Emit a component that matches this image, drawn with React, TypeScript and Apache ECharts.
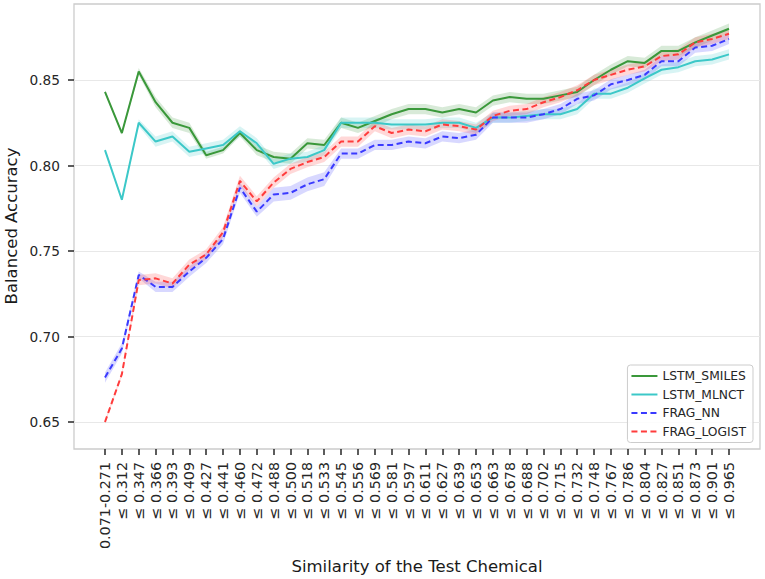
import React, { useEffect, useRef } from "react";
import * as echarts from "echarts";

const categories = [
  "0.071-0.271", "≤ 0.312", "≤ 0.347", "≤ 0.366", "≤ 0.393", "≤ 0.409", "≤ 0.427", "≤ 0.441",
  "≤ 0.460", "≤ 0.472", "≤ 0.488", "≤ 0.500", "≤ 0.518", "≤ 0.533", "≤ 0.545", "≤ 0.556",
  "≤ 0.569", "≤ 0.581", "≤ 0.597", "≤ 0.611", "≤ 0.627", "≤ 0.639", "≤ 0.653", "≤ 0.663",
  "≤ 0.678", "≤ 0.688", "≤ 0.702", "≤ 0.715", "≤ 0.732", "≤ 0.748", "≤ 0.767", "≤ 0.786",
  "≤ 0.804", "≤ 0.827", "≤ 0.851", "≤ 0.873", "≤ 0.901", "≤ 0.965",
];

const lstmSmiles = [
  0.843, 0.819, 0.855, 0.837, 0.825, 0.822, 0.806, 0.809, 0.819, 0.809, 0.805, 0.804, 0.813,
  0.812, 0.825, 0.822, 0.826, 0.83, 0.833, 0.833, 0.831, 0.833, 0.831, 0.838, 0.84, 0.839,
  0.839, 0.841, 0.843, 0.85, 0.856, 0.861, 0.86, 0.867, 0.867, 0.872, 0.876, 0.88,
];
const lstmSmilesErr = [
  0.001, 0.001, 0.002, 0.003, 0.003, 0.003, 0.002, 0.002, 0.002, 0.003, 0.003, 0.003, 0.003,
  0.003, 0.003, 0.003, 0.003, 0.003, 0.003, 0.003, 0.003, 0.003, 0.003, 0.003, 0.003, 0.003,
  0.003, 0.003, 0.003, 0.003, 0.003, 0.003, 0.003, 0.003, 0.003, 0.003, 0.003, 0.003,
];

const lstmMlnct = [
  0.809, 0.78, 0.825, 0.814, 0.817, 0.808, 0.81, 0.812, 0.82, 0.813, 0.801, 0.804, 0.805,
  0.809, 0.825, 0.825, 0.825, 0.824, 0.824, 0.824, 0.825, 0.825, 0.822, 0.828, 0.828, 0.829,
  0.83, 0.83, 0.833, 0.842, 0.842, 0.8455, 0.851, 0.856, 0.8575, 0.861, 0.862, 0.865,
];
const lstmMlnctErr = [
  0.001, 0.001, 0.002, 0.003, 0.003, 0.003, 0.003, 0.003, 0.003, 0.003, 0.003, 0.003, 0.003,
  0.003, 0.003, 0.003, 0.003, 0.003, 0.003, 0.003, 0.003, 0.003, 0.003, 0.003, 0.003, 0.003,
  0.003, 0.003, 0.003, 0.003, 0.003, 0.003, 0.003, 0.003, 0.003, 0.003, 0.003, 0.003,
];

const fragNn = [
  0.676, 0.693, 0.736, 0.729, 0.729, 0.738, 0.746, 0.757, 0.787, 0.773, 0.783, 0.784, 0.789,
  0.792, 0.807, 0.807, 0.812, 0.812, 0.814, 0.813, 0.817, 0.816, 0.818, 0.828, 0.828, 0.828,
  0.83, 0.833, 0.839, 0.841, 0.8475, 0.85, 0.853, 0.861, 0.861, 0.869, 0.87, 0.874,
];
const fragNnErr = [
  0.003, 0.003, 0.002, 0.003, 0.003, 0.003, 0.003, 0.003, 0.003, 0.003, 0.004, 0.004, 0.004,
  0.004, 0.003, 0.003, 0.003, 0.003, 0.003, 0.003, 0.003, 0.003, 0.003, 0.003, 0.003, 0.003,
  0.003, 0.003, 0.003, 0.003, 0.003, 0.003, 0.003, 0.003, 0.003, 0.003, 0.003, 0.003,
];

const fragLogist = [
  0.65, 0.678, 0.733, 0.734, 0.731, 0.742, 0.748, 0.761, 0.791, 0.779, 0.79, 0.798, 0.802,
  0.805, 0.814, 0.814, 0.823, 0.819, 0.821, 0.82, 0.824, 0.823, 0.821, 0.829, 0.832, 0.833,
  0.837, 0.84, 0.844, 0.85, 0.853, 0.856, 0.858, 0.864, 0.865, 0.872, 0.874, 0.877,
];
const fragLogistErr = [
  0.001, 0.001, 0.003, 0.003, 0.003, 0.003, 0.003, 0.003, 0.003, 0.003, 0.003, 0.003, 0.003,
  0.003, 0.003, 0.003, 0.003, 0.003, 0.003, 0.003, 0.003, 0.003, 0.003, 0.003, 0.003, 0.003,
  0.003, 0.003, 0.003, 0.003, 0.003, 0.003, 0.003, 0.003, 0.003, 0.003, 0.003, 0.003,
];

const yTicks = [0.65, 0.7, 0.75, 0.8, 0.85];

const FONT = "DejaVu Sans";
const TEXT = "#262626";

type Def = { name: string; values: number[]; err: number[]; color: string; dashed: boolean };

const defs: Def[] = [
  { name: "LSTM_SMILES", values: lstmSmiles, err: lstmSmilesErr, color: "#3a983a", dashed: false },
  { name: "LSTM_MLNCT", values: lstmMlnct, err: lstmMlnctErr, color: "#3cc8c8", dashed: false },
  { name: "FRAG_NN", values: fragNn, err: fragNnErr, color: "#3a3aff", dashed: true },
  { name: "FRAG_LOGIST", values: fragLogist, err: fragLogistErr, color: "#ff3c3c", dashed: true },
];

export default function App() {
  const ref = useRef<HTMLDivElement>(null);

  useEffect(() => {
    if (!ref.current) return;
    const chart = echarts.init(ref.current, undefined, { renderer: "svg" });

    const series: any[] = [];
    defs.forEach((d, k) => {
      const lower = d.values.map((v, i) => +(v - d.err[i]).toFixed(4));
      const width = d.err.map((e) => +(2 * e).toFixed(4));
      series.push({
        name: "band-lo-" + k,
        type: "line",
        xAxisIndex: 1,
        yAxisIndex: 1,
        stack: "band" + k,
        data: lower,
        symbol: "none",
        lineStyle: { opacity: 0 },
        silent: true,
        clip: false,
        z: 1,
      });
      series.push({
        name: "band-hi-" + k,
        type: "line",
        xAxisIndex: 1,
        yAxisIndex: 1,
        stack: "band" + k,
        data: width,
        symbol: "none",
        lineStyle: { opacity: 0 },
        areaStyle: { color: d.color, opacity: 0.2 },
        silent: true,
        clip: false,
        z: 1,
      });
    });
    defs.forEach((d) => {
      series.push({
        name: d.name,
        type: "line",
        xAxisIndex: 1,
        yAxisIndex: 1,
        data: d.values,
        symbol: "none",
        showSymbol: false,
        clip: false,
        color: d.color,
        lineStyle: {
          color: d.color,
          width: 2,
          type: d.dashed ? [6, 3.5] : "solid",
        },
        z: 3,
      });
    });

    chart.setOption({
      animation: false,
      backgroundColor: "#ffffff",
      grid: [
        { left: 74, right: 5, top: 80, bottom: 157 },
        { left: 105, right: 36, top: 80, bottom: 157 },
      ],
      xAxis: [
        { type: "value", gridIndex: 0, min: 0, max: 1, show: false },
        {
          type: "category",
          gridIndex: 1,
          data: categories,
          boundaryGap: false,
          offset: 27,
          axisLine: { show: false },
          axisTick: { show: true, length: 6, lineStyle: { color: TEXT, width: 1.5 }, interval: 0 },
          axisLabel: {
            interval: 0,
            rotate: 90,
            margin: 13,
            color: TEXT,
            fontFamily: FONT,
            fontSize: 14.3,
          },
          splitLine: { show: false },
        },
      ],
      yAxis: [
        {
          type: "value",
          gridIndex: 0,
          min: 0.65,
          max: 0.85,
          interval: 0.05,
          axisLine: { show: false },
          axisTick: { show: true, length: 6, lineStyle: { color: TEXT, width: 1.5 } },
          axisLabel: {
            color: TEXT,
            fontFamily: FONT,
            fontSize: 13.7,
            margin: 14,
            formatter: (v: number) => (yTicks.some((t) => Math.abs(t - v) < 1e-6) ? v.toFixed(2) : ""),
          },
          splitLine: { show: true, lineStyle: { color: "#e8e8e8", width: 1.2 } },
        },
        { type: "value", gridIndex: 1, min: 0.65, max: 0.85, show: false },
      ],
      legend: {
        data: defs.map((d) => d.name),
        orient: "vertical",
        right: 12,
        top: 365,
        padding: [5, 7, 5, 3],
        itemWidth: 26,
        itemHeight: 12,
        itemGap: 6.5,
        itemStyle: { opacity: 0 },
        backgroundColor: "rgba(255,255,255,0.85)",
        borderColor: "#cccccc",
        borderWidth: 1,
        borderRadius: 3,
        textStyle: { color: TEXT, fontFamily: FONT, fontSize: 12.3 },
      },
      graphic: [
        {
          type: "rect",
          shape: { x: 74, y: 4, width: 686, height: 445 },
          style: { fill: "none", stroke: "#cccccc", lineWidth: 1.3 },
          silent: true,
          z: 0,
        },
        {
          type: "text",
          x: 11,
          y: 226,
          rotation: Math.PI / 2,
          style: {
            text: "Balanced Accuracy",
            fill: "#1a1a1a",
            font: `16.5px ${FONT}`,
            align: "center",
            verticalAlign: "middle",
          },
        },
        {
          type: "text",
          x: 417,
          y: 566,
          style: {
            text: "Similarity of the Test Chemical",
            fill: "#1a1a1a",
            font: `16.5px ${FONT}`,
            align: "center",
            verticalAlign: "middle",
          },
        },
      ],
      series,
    });

    return () => chart.dispose();
  }, []);

  return (
    <div
      ref={ref}
      style={{ position: "fixed", left: 0, top: 0, width: 765, height: 579 }}
    />
  );
}
